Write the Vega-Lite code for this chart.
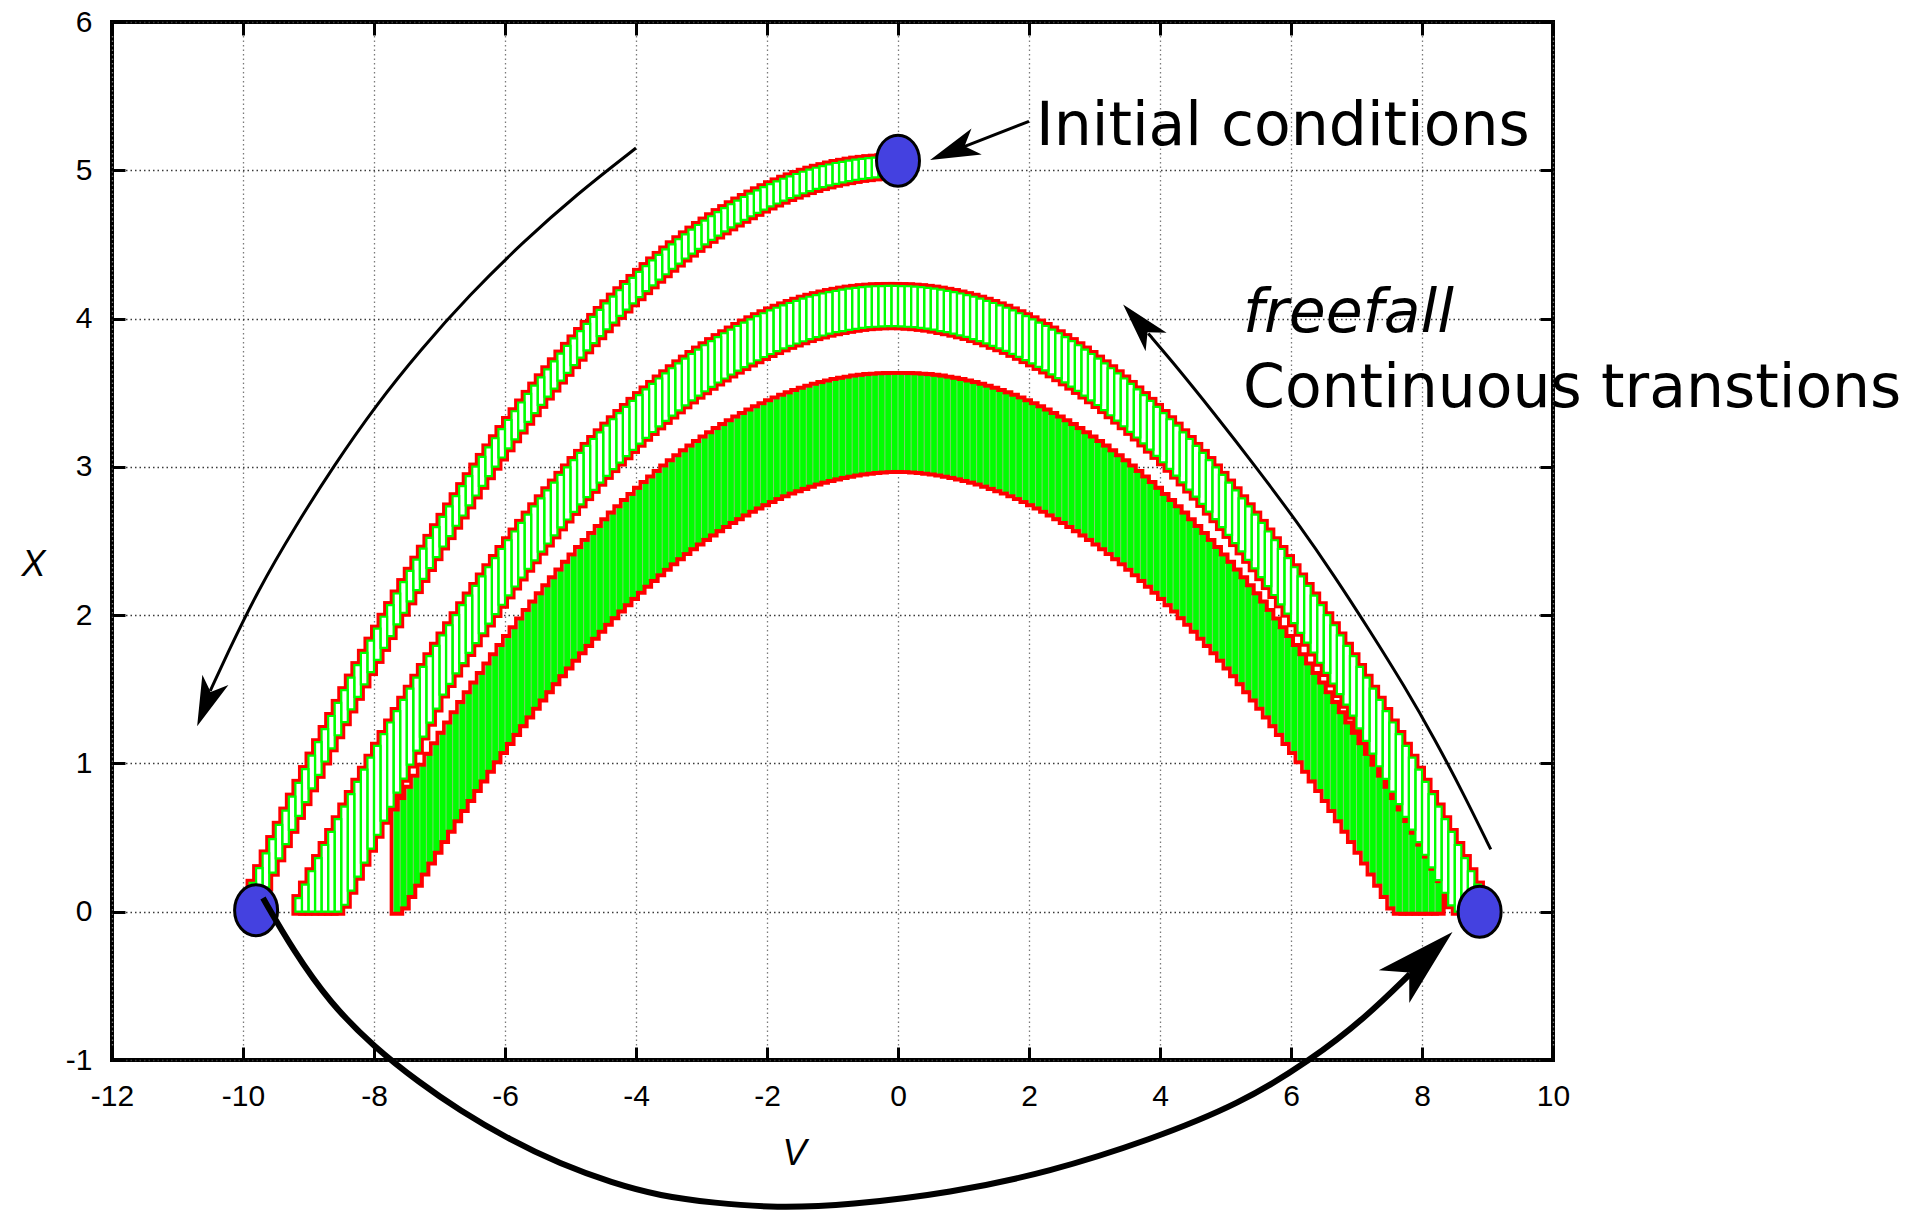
{
  "$schema": "https://vega.github.io/schema/vega-lite/v6.json",
  "width": 1441,
  "height": 1038,
  "autosize": {"type": "none"},
  "padding": {"left": 112, "top": 22, "right": 377, "bottom": 153},
  "background": "white",
  "config": {
    "view": {"stroke": "black", "strokeWidth": 4},
    "axis": {
      "domain": false,
      "tickColor": "black",
      "tickWidth": 3,
      "tickSize": -13,
      "labelFont": "Liberation Sans Narrow, Arial Narrow, Liberation Sans, sans-serif",
      "labelFontSize": 30,
      "labelColor": "black",
      "titleFont": "Liberation Sans Narrow, Arial Narrow, Liberation Sans, sans-serif",
      "titleFontSize": 36,
      "titleFontStyle": "italic",
      "titleFontWeight": "normal",
      "titleColor": "black",
      "gridDash": [1.5, 3],
      "gridWidth": 1.3
    }
  },
  "datasets": {
    "boxes": [
      {"band":1,"v0":-0.1,"v1":0,"lo":4.959,"hi":5.09},
      {"band":1,"v0":-0.2,"v1":-0.1,"lo":4.958,"hi":5.089},
      {"band":1,"v0":-0.3,"v1":-0.2,"lo":4.955,"hi":5.088},
      {"band":1,"v0":-0.4,"v1":-0.3,"lo":4.952,"hi":5.085},
      {"band":1,"v0":-0.5,"v1":-0.4,"lo":4.947,"hi":5.082},
      {"band":1,"v0":-0.6,"v1":-0.5,"lo":4.942,"hi":5.077},
      {"band":1,"v0":-0.7,"v1":-0.6,"lo":4.935,"hi":5.072},
      {"band":1,"v0":-0.8,"v1":-0.7,"lo":4.927,"hi":5.065},
      {"band":1,"v0":-0.9,"v1":-0.8,"lo":4.919,"hi":5.057},
      {"band":1,"v0":-1,"v1":-0.9,"lo":4.909,"hi":5.049},
      {"band":1,"v0":-1.1,"v1":-1,"lo":4.898,"hi":5.039},
      {"band":1,"v0":-1.2,"v1":-1.1,"lo":4.887,"hi":5.028},
      {"band":1,"v0":-1.3,"v1":-1.2,"lo":4.874,"hi":5.017},
      {"band":1,"v0":-1.4,"v1":-1.3,"lo":4.86,"hi":5.004},
      {"band":1,"v0":-1.5,"v1":-1.4,"lo":4.845,"hi":4.99},
      {"band":1,"v0":-1.6,"v1":-1.5,"lo":4.829,"hi":4.975},
      {"band":1,"v0":-1.7,"v1":-1.6,"lo":4.813,"hi":4.959},
      {"band":1,"v0":-1.8,"v1":-1.7,"lo":4.795,"hi":4.943},
      {"band":1,"v0":-1.9,"v1":-1.8,"lo":4.776,"hi":4.925},
      {"band":1,"v0":-2,"v1":-1.9,"lo":4.756,"hi":4.906},
      {"band":1,"v0":-2.1,"v1":-2,"lo":4.735,"hi":4.886},
      {"band":1,"v0":-2.2,"v1":-2.1,"lo":4.713,"hi":4.865},
      {"band":1,"v0":-2.3,"v1":-2.2,"lo":4.69,"hi":4.843},
      {"band":1,"v0":-2.4,"v1":-2.3,"lo":4.666,"hi":4.82},
      {"band":1,"v0":-2.5,"v1":-2.4,"lo":4.641,"hi":4.796},
      {"band":1,"v0":-2.6,"v1":-2.5,"lo":4.615,"hi":4.771},
      {"band":1,"v0":-2.7,"v1":-2.6,"lo":4.588,"hi":4.745},
      {"band":1,"v0":-2.8,"v1":-2.7,"lo":4.56,"hi":4.718},
      {"band":1,"v0":-2.9,"v1":-2.8,"lo":4.531,"hi":4.69},
      {"band":1,"v0":-3,"v1":-2.9,"lo":4.501,"hi":4.661},
      {"band":1,"v0":-3.1,"v1":-3,"lo":4.47,"hi":4.631},
      {"band":1,"v0":-3.2,"v1":-3.1,"lo":4.438,"hi":4.6},
      {"band":1,"v0":-3.3,"v1":-3.2,"lo":4.405,"hi":4.568},
      {"band":1,"v0":-3.4,"v1":-3.3,"lo":4.371,"hi":4.535},
      {"band":1,"v0":-3.5,"v1":-3.4,"lo":4.336,"hi":4.501},
      {"band":1,"v0":-3.6,"v1":-3.5,"lo":4.299,"hi":4.466},
      {"band":1,"v0":-3.7,"v1":-3.6,"lo":4.262,"hi":4.429},
      {"band":1,"v0":-3.8,"v1":-3.7,"lo":4.224,"hi":4.392},
      {"band":1,"v0":-3.9,"v1":-3.8,"lo":4.185,"hi":4.354},
      {"band":1,"v0":-4,"v1":-3.9,"lo":4.144,"hi":4.315},
      {"band":1,"v0":-4.1,"v1":-4,"lo":4.103,"hi":4.274},
      {"band":1,"v0":-4.2,"v1":-4.1,"lo":4.061,"hi":4.233},
      {"band":1,"v0":-4.3,"v1":-4.2,"lo":4.018,"hi":4.191},
      {"band":1,"v0":-4.4,"v1":-4.3,"lo":3.973,"hi":4.148},
      {"band":1,"v0":-4.5,"v1":-4.4,"lo":3.928,"hi":4.103},
      {"band":1,"v0":-4.6,"v1":-4.5,"lo":3.881,"hi":4.058},
      {"band":1,"v0":-4.7,"v1":-4.6,"lo":3.834,"hi":4.011},
      {"band":1,"v0":-4.8,"v1":-4.7,"lo":3.786,"hi":3.964},
      {"band":1,"v0":-4.9,"v1":-4.8,"lo":3.736,"hi":3.916},
      {"band":1,"v0":-5,"v1":-4.9,"lo":3.686,"hi":3.866},
      {"band":1,"v0":-5.1,"v1":-5,"lo":3.634,"hi":3.816},
      {"band":1,"v0":-5.2,"v1":-5.1,"lo":3.582,"hi":3.764},
      {"band":1,"v0":-5.3,"v1":-5.2,"lo":3.528,"hi":3.712},
      {"band":1,"v0":-5.4,"v1":-5.3,"lo":3.474,"hi":3.658},
      {"band":1,"v0":-5.5,"v1":-5.4,"lo":3.418,"hi":3.604},
      {"band":1,"v0":-5.6,"v1":-5.5,"lo":3.362,"hi":3.548},
      {"band":1,"v0":-5.7,"v1":-5.6,"lo":3.304,"hi":3.492},
      {"band":1,"v0":-5.8,"v1":-5.7,"lo":3.245,"hi":3.434},
      {"band":1,"v0":-5.9,"v1":-5.8,"lo":3.186,"hi":3.375},
      {"band":1,"v0":-6,"v1":-5.9,"lo":3.125,"hi":3.316},
      {"band":1,"v0":-6.1,"v1":-6,"lo":3.063,"hi":3.255},
      {"band":1,"v0":-6.2,"v1":-6.1,"lo":3.001,"hi":3.193},
      {"band":1,"v0":-6.3,"v1":-6.2,"lo":2.937,"hi":3.131},
      {"band":1,"v0":-6.4,"v1":-6.3,"lo":2.872,"hi":3.067},
      {"band":1,"v0":-6.5,"v1":-6.4,"lo":2.807,"hi":3.002},
      {"band":1,"v0":-6.6,"v1":-6.5,"lo":2.74,"hi":2.937},
      {"band":1,"v0":-6.7,"v1":-6.6,"lo":2.672,"hi":2.87},
      {"band":1,"v0":-6.8,"v1":-6.7,"lo":2.603,"hi":2.802},
      {"band":1,"v0":-6.9,"v1":-6.8,"lo":2.533,"hi":2.733},
      {"band":1,"v0":-7,"v1":-6.9,"lo":2.463,"hi":2.663},
      {"band":1,"v0":-7.1,"v1":-7,"lo":2.391,"hi":2.593},
      {"band":1,"v0":-7.2,"v1":-7.1,"lo":2.318,"hi":2.521},
      {"band":1,"v0":-7.3,"v1":-7.2,"lo":2.244,"hi":2.448},
      {"band":1,"v0":-7.4,"v1":-7.3,"lo":2.169,"hi":2.374},
      {"band":1,"v0":-7.5,"v1":-7.4,"lo":2.093,"hi":2.299},
      {"band":1,"v0":-7.6,"v1":-7.5,"lo":2.016,"hi":2.223},
      {"band":1,"v0":-7.7,"v1":-7.6,"lo":1.938,"hi":2.146},
      {"band":1,"v0":-7.8,"v1":-7.7,"lo":1.859,"hi":2.068},
      {"band":1,"v0":-7.9,"v1":-7.8,"lo":1.779,"hi":1.989},
      {"band":1,"v0":-8,"v1":-7.9,"lo":1.698,"hi":1.909},
      {"band":1,"v0":-8.1,"v1":-8,"lo":1.616,"hi":1.828},
      {"band":1,"v0":-8.2,"v1":-8.1,"lo":1.533,"hi":1.746},
      {"band":1,"v0":-8.3,"v1":-8.2,"lo":1.449,"hi":1.663},
      {"band":1,"v0":-8.4,"v1":-8.3,"lo":1.364,"hi":1.579},
      {"band":1,"v0":-8.5,"v1":-8.4,"lo":1.278,"hi":1.494},
      {"band":1,"v0":-8.6,"v1":-8.5,"lo":1.19,"hi":1.408},
      {"band":1,"v0":-8.7,"v1":-8.6,"lo":1.102,"hi":1.32},
      {"band":1,"v0":-8.8,"v1":-8.7,"lo":1.013,"hi":1.232},
      {"band":1,"v0":-8.9,"v1":-8.8,"lo":0.923,"hi":1.143},
      {"band":1,"v0":-9,"v1":-8.9,"lo":0.832,"hi":1.053},
      {"band":1,"v0":-9.1,"v1":-9,"lo":0.739,"hi":0.962},
      {"band":1,"v0":-9.2,"v1":-9.1,"lo":0.646,"hi":0.869},
      {"band":1,"v0":-9.3,"v1":-9.2,"lo":0.552,"hi":0.776},
      {"band":1,"v0":-9.4,"v1":-9.3,"lo":0.456,"hi":0.682},
      {"band":1,"v0":-9.5,"v1":-9.4,"lo":0.36,"hi":0.586},
      {"band":1,"v0":-9.6,"v1":-9.5,"lo":0.263,"hi":0.49},
      {"band":1,"v0":-9.7,"v1":-9.6,"lo":0.164,"hi":0.393},
      {"band":1,"v0":-9.8,"v1":-9.7,"lo":0.065,"hi":0.294},
      {"band":1,"v0":-9.9,"v1":-9.8,"lo":0,"hi":0.195},

      {"band":2,"v0":-0.1,"v1":0,"lo":3.949,"hi":4.22},
      {"band":2,"v0":0,"v1":0.1,"lo":3.948,"hi":4.219},
      {"band":2,"v0":0.1,"v1":0.2,"lo":3.945,"hi":4.218},
      {"band":2,"v0":0.2,"v1":0.3,"lo":3.942,"hi":4.215},
      {"band":2,"v0":0.3,"v1":0.4,"lo":3.937,"hi":4.212},
      {"band":2,"v0":0.4,"v1":0.5,"lo":3.932,"hi":4.207},
      {"band":2,"v0":0.5,"v1":0.6,"lo":3.925,"hi":4.202},
      {"band":2,"v0":0.6,"v1":0.7,"lo":3.916,"hi":4.195},
      {"band":2,"v0":0.7,"v1":0.8,"lo":3.908,"hi":4.187},
      {"band":2,"v0":0.8,"v1":0.9,"lo":3.898,"hi":4.179},
      {"band":2,"v0":0.9,"v1":1,"lo":3.887,"hi":4.169},
      {"band":2,"v0":1,"v1":1.1,"lo":3.876,"hi":4.158},
      {"band":2,"v0":1.1,"v1":1.2,"lo":3.862,"hi":4.147},
      {"band":2,"v0":1.2,"v1":1.3,"lo":3.848,"hi":4.134},
      {"band":2,"v0":1.3,"v1":1.4,"lo":3.833,"hi":4.12},
      {"band":2,"v0":1.4,"v1":1.5,"lo":3.816,"hi":4.105},
      {"band":2,"v0":1.5,"v1":1.6,"lo":3.8,"hi":4.089},
      {"band":2,"v0":1.6,"v1":1.7,"lo":3.782,"hi":4.073},
      {"band":2,"v0":1.7,"v1":1.8,"lo":3.762,"hi":4.055},
      {"band":2,"v0":1.8,"v1":1.9,"lo":3.742,"hi":4.036},
      {"band":2,"v0":1.9,"v1":2,"lo":3.72,"hi":4.016},
      {"band":2,"v0":2,"v1":2.1,"lo":3.698,"hi":3.995},
      {"band":2,"v0":2.1,"v1":2.2,"lo":3.674,"hi":3.973},
      {"band":2,"v0":2.2,"v1":2.3,"lo":3.65,"hi":3.95},
      {"band":2,"v0":2.3,"v1":2.4,"lo":3.624,"hi":3.926},
      {"band":2,"v0":2.4,"v1":2.5,"lo":3.598,"hi":3.901},
      {"band":2,"v0":2.5,"v1":2.6,"lo":3.57,"hi":3.875},
      {"band":2,"v0":2.6,"v1":2.7,"lo":3.541,"hi":3.848},
      {"band":2,"v0":2.7,"v1":2.8,"lo":3.512,"hi":3.82},
      {"band":2,"v0":2.8,"v1":2.9,"lo":3.481,"hi":3.791},
      {"band":2,"v0":2.9,"v1":3,"lo":3.449,"hi":3.761},
      {"band":2,"v0":3,"v1":3.1,"lo":3.417,"hi":3.73},
      {"band":2,"v0":3.1,"v1":3.2,"lo":3.383,"hi":3.698},
      {"band":2,"v0":3.2,"v1":3.3,"lo":3.348,"hi":3.665},
      {"band":2,"v0":3.3,"v1":3.4,"lo":3.312,"hi":3.631},
      {"band":2,"v0":3.4,"v1":3.5,"lo":3.274,"hi":3.596},
      {"band":2,"v0":3.5,"v1":3.6,"lo":3.236,"hi":3.559},
      {"band":2,"v0":3.6,"v1":3.7,"lo":3.198,"hi":3.522},
      {"band":2,"v0":3.7,"v1":3.8,"lo":3.158,"hi":3.484},
      {"band":2,"v0":3.8,"v1":3.9,"lo":3.116,"hi":3.445},
      {"band":2,"v0":3.9,"v1":4,"lo":3.074,"hi":3.404},
      {"band":2,"v0":4,"v1":4.1,"lo":3.031,"hi":3.363},
      {"band":2,"v0":4.1,"v1":4.2,"lo":2.987,"hi":3.321},
      {"band":2,"v0":4.2,"v1":4.3,"lo":2.941,"hi":3.278},
      {"band":2,"v0":4.3,"v1":4.4,"lo":2.895,"hi":3.233},
      {"band":2,"v0":4.4,"v1":4.5,"lo":2.847,"hi":3.188},
      {"band":2,"v0":4.5,"v1":4.6,"lo":2.799,"hi":3.141},
      {"band":2,"v0":4.6,"v1":4.7,"lo":2.75,"hi":3.094},
      {"band":2,"v0":4.7,"v1":4.8,"lo":2.698,"hi":3.046},
      {"band":2,"v0":4.8,"v1":4.9,"lo":2.647,"hi":2.996},
      {"band":2,"v0":4.9,"v1":5,"lo":2.594,"hi":2.946},
      {"band":2,"v0":5,"v1":5.1,"lo":2.541,"hi":2.894},
      {"band":2,"v0":5.1,"v1":5.2,"lo":2.486,"hi":2.842},
      {"band":2,"v0":5.2,"v1":5.3,"lo":2.43,"hi":2.788},
      {"band":2,"v0":5.3,"v1":5.4,"lo":2.373,"hi":2.734},
      {"band":2,"v0":5.4,"v1":5.5,"lo":2.316,"hi":2.678},
      {"band":2,"v0":5.5,"v1":5.6,"lo":2.256,"hi":2.622},
      {"band":2,"v0":5.6,"v1":5.7,"lo":2.196,"hi":2.564},
      {"band":2,"v0":5.7,"v1":5.8,"lo":2.136,"hi":2.505},
      {"band":2,"v0":5.8,"v1":5.9,"lo":2.073,"hi":2.446},
      {"band":2,"v0":5.9,"v1":6,"lo":2.01,"hi":2.385},
      {"band":2,"v0":6,"v1":6.1,"lo":1.946,"hi":2.323},
      {"band":2,"v0":6.1,"v1":6.2,"lo":1.881,"hi":2.261},
      {"band":2,"v0":6.2,"v1":6.3,"lo":1.814,"hi":2.197},
      {"band":2,"v0":6.3,"v1":6.4,"lo":1.748,"hi":2.132},
      {"band":2,"v0":6.4,"v1":6.5,"lo":1.679,"hi":2.067},
      {"band":2,"v0":6.5,"v1":6.6,"lo":1.61,"hi":2},
      {"band":2,"v0":6.6,"v1":6.7,"lo":1.539,"hi":1.932},
      {"band":2,"v0":6.7,"v1":6.8,"lo":1.468,"hi":1.863},
      {"band":2,"v0":6.8,"v1":6.9,"lo":1.396,"hi":1.793},
      {"band":2,"v0":6.9,"v1":7,"lo":1.322,"hi":1.723},
      {"band":2,"v0":7,"v1":7.1,"lo":1.237,"hi":1.651},
      {"band":2,"v0":7.1,"v1":7.2,"lo":1.152,"hi":1.578},
      {"band":2,"v0":7.2,"v1":7.3,"lo":1.066,"hi":1.504},
      {"band":2,"v0":7.3,"v1":7.4,"lo":0.981,"hi":1.429},
      {"band":2,"v0":7.4,"v1":7.5,"lo":0.896,"hi":1.353},
      {"band":2,"v0":7.5,"v1":7.6,"lo":0.81,"hi":1.276},
      {"band":2,"v0":7.6,"v1":7.7,"lo":0.725,"hi":1.198},
      {"band":2,"v0":7.7,"v1":7.8,"lo":0.64,"hi":1.119},
      {"band":2,"v0":7.8,"v1":7.9,"lo":0.554,"hi":1.039},
      {"band":2,"v0":7.9,"v1":8,"lo":0.469,"hi":0.958},
      {"band":2,"v0":8,"v1":8.1,"lo":0.384,"hi":0.876},
      {"band":2,"v0":8.1,"v1":8.2,"lo":0.299,"hi":0.793},
      {"band":2,"v0":8.2,"v1":8.3,"lo":0.213,"hi":0.709},
      {"band":2,"v0":8.3,"v1":8.4,"lo":0.128,"hi":0.624},
      {"band":2,"v0":8.4,"v1":8.5,"lo":0.043,"hi":0.538},
      {"band":2,"v0":8.5,"v1":8.6,"lo":0,"hi":0.45},
      {"band":2,"v0":8.6,"v1":8.7,"lo":0,"hi":0.362},
      {"band":2,"v0":8.7,"v1":8.8,"lo":0,"hi":0.273},
      {"band":2,"v0":8.8,"v1":8.9,"lo":0,"hi":0.183},
      {"band":2,"v0":8.9,"v1":9,"lo":0,"hi":0.092},
      {"band":2,"v0":-0.2,"v1":-0.1,"lo":3.949,"hi":4.22},
      {"band":2,"v0":-0.3,"v1":-0.2,"lo":3.948,"hi":4.219},
      {"band":2,"v0":-0.4,"v1":-0.3,"lo":3.945,"hi":4.218},
      {"band":2,"v0":-0.5,"v1":-0.4,"lo":3.942,"hi":4.215},
      {"band":2,"v0":-0.6,"v1":-0.5,"lo":3.937,"hi":4.212},
      {"band":2,"v0":-0.7,"v1":-0.6,"lo":3.931,"hi":4.207},
      {"band":2,"v0":-0.8,"v1":-0.7,"lo":3.924,"hi":4.202},
      {"band":2,"v0":-0.9,"v1":-0.8,"lo":3.916,"hi":4.195},
      {"band":2,"v0":-1,"v1":-0.9,"lo":3.908,"hi":4.187},
      {"band":2,"v0":-1.1,"v1":-1,"lo":3.898,"hi":4.179},
      {"band":2,"v0":-1.2,"v1":-1.1,"lo":3.886,"hi":4.169},
      {"band":2,"v0":-1.3,"v1":-1.2,"lo":3.875,"hi":4.158},
      {"band":2,"v0":-1.4,"v1":-1.3,"lo":3.862,"hi":4.147},
      {"band":2,"v0":-1.5,"v1":-1.4,"lo":3.847,"hi":4.134},
      {"band":2,"v0":-1.6,"v1":-1.5,"lo":3.832,"hi":4.12},
      {"band":2,"v0":-1.7,"v1":-1.6,"lo":3.816,"hi":4.105},
      {"band":2,"v0":-1.8,"v1":-1.7,"lo":3.799,"hi":4.089},
      {"band":2,"v0":-1.9,"v1":-1.8,"lo":3.781,"hi":4.073},
      {"band":2,"v0":-2,"v1":-1.9,"lo":3.761,"hi":4.055},
      {"band":2,"v0":-2.1,"v1":-2,"lo":3.741,"hi":4.036},
      {"band":2,"v0":-2.2,"v1":-2.1,"lo":3.719,"hi":4.016},
      {"band":2,"v0":-2.3,"v1":-2.2,"lo":3.697,"hi":3.995},
      {"band":2,"v0":-2.4,"v1":-2.3,"lo":3.673,"hi":3.973},
      {"band":2,"v0":-2.5,"v1":-2.4,"lo":3.649,"hi":3.95},
      {"band":2,"v0":-2.6,"v1":-2.5,"lo":3.623,"hi":3.926},
      {"band":2,"v0":-2.7,"v1":-2.6,"lo":3.596,"hi":3.901},
      {"band":2,"v0":-2.8,"v1":-2.7,"lo":3.569,"hi":3.875},
      {"band":2,"v0":-2.9,"v1":-2.8,"lo":3.54,"hi":3.848},
      {"band":2,"v0":-3,"v1":-2.9,"lo":3.51,"hi":3.82},
      {"band":2,"v0":-3.1,"v1":-3,"lo":3.48,"hi":3.791},
      {"band":2,"v0":-3.2,"v1":-3.1,"lo":3.448,"hi":3.761},
      {"band":2,"v0":-3.3,"v1":-3.2,"lo":3.415,"hi":3.73},
      {"band":2,"v0":-3.4,"v1":-3.3,"lo":3.381,"hi":3.698},
      {"band":2,"v0":-3.5,"v1":-3.4,"lo":3.346,"hi":3.665},
      {"band":2,"v0":-3.6,"v1":-3.5,"lo":3.31,"hi":3.631},
      {"band":2,"v0":-3.7,"v1":-3.6,"lo":3.273,"hi":3.596},
      {"band":2,"v0":-3.8,"v1":-3.7,"lo":3.235,"hi":3.559},
      {"band":2,"v0":-3.9,"v1":-3.8,"lo":3.196,"hi":3.522},
      {"band":2,"v0":-4,"v1":-3.9,"lo":3.156,"hi":3.484},
      {"band":2,"v0":-4.1,"v1":-4,"lo":3.114,"hi":3.445},
      {"band":2,"v0":-4.2,"v1":-4.1,"lo":3.072,"hi":3.404},
      {"band":2,"v0":-4.3,"v1":-4.2,"lo":3.029,"hi":3.363},
      {"band":2,"v0":-4.4,"v1":-4.3,"lo":2.985,"hi":3.321},
      {"band":2,"v0":-4.5,"v1":-4.4,"lo":2.939,"hi":3.278},
      {"band":2,"v0":-4.6,"v1":-4.5,"lo":2.893,"hi":3.233},
      {"band":2,"v0":-4.7,"v1":-4.6,"lo":2.845,"hi":3.188},
      {"band":2,"v0":-4.8,"v1":-4.7,"lo":2.796,"hi":3.141},
      {"band":2,"v0":-4.9,"v1":-4.8,"lo":2.747,"hi":3.094},
      {"band":2,"v0":-5,"v1":-4.9,"lo":2.696,"hi":3.046},
      {"band":2,"v0":-5.1,"v1":-5,"lo":2.645,"hi":2.996},
      {"band":2,"v0":-5.2,"v1":-5.1,"lo":2.592,"hi":2.946},
      {"band":2,"v0":-5.3,"v1":-5.2,"lo":2.538,"hi":2.894},
      {"band":2,"v0":-5.4,"v1":-5.3,"lo":2.483,"hi":2.842},
      {"band":2,"v0":-5.5,"v1":-5.4,"lo":2.428,"hi":2.788},
      {"band":2,"v0":-5.6,"v1":-5.5,"lo":2.37,"hi":2.734},
      {"band":2,"v0":-5.7,"v1":-5.6,"lo":2.313,"hi":2.678},
      {"band":2,"v0":-5.8,"v1":-5.7,"lo":2.254,"hi":2.622},
      {"band":2,"v0":-5.9,"v1":-5.8,"lo":2.193,"hi":2.564},
      {"band":2,"v0":-6,"v1":-5.9,"lo":2.133,"hi":2.505},
      {"band":2,"v0":-6.1,"v1":-6,"lo":2.07,"hi":2.446},
      {"band":2,"v0":-6.2,"v1":-6.1,"lo":2.007,"hi":2.385},
      {"band":2,"v0":-6.3,"v1":-6.2,"lo":1.943,"hi":2.323},
      {"band":2,"v0":-6.4,"v1":-6.3,"lo":1.878,"hi":2.261},
      {"band":2,"v0":-6.5,"v1":-6.4,"lo":1.811,"hi":2.197},
      {"band":2,"v0":-6.6,"v1":-6.5,"lo":1.745,"hi":2.132},
      {"band":2,"v0":-6.7,"v1":-6.6,"lo":1.676,"hi":2.067},
      {"band":2,"v0":-6.8,"v1":-6.7,"lo":1.607,"hi":2},
      {"band":2,"v0":-6.9,"v1":-6.8,"lo":1.536,"hi":1.932},
      {"band":2,"v0":-7,"v1":-6.9,"lo":1.464,"hi":1.863},
      {"band":2,"v0":-7.1,"v1":-7,"lo":1.37,"hi":1.793},
      {"band":2,"v0":-7.2,"v1":-7.1,"lo":1.275,"hi":1.723},
      {"band":2,"v0":-7.3,"v1":-7.2,"lo":1.181,"hi":1.651},
      {"band":2,"v0":-7.4,"v1":-7.3,"lo":1.086,"hi":1.578},
      {"band":2,"v0":-7.5,"v1":-7.4,"lo":0.992,"hi":1.504},
      {"band":2,"v0":-7.6,"v1":-7.5,"lo":0.897,"hi":1.429},
      {"band":2,"v0":-7.7,"v1":-7.6,"lo":0.803,"hi":1.353},
      {"band":2,"v0":-7.8,"v1":-7.7,"lo":0.708,"hi":1.276},
      {"band":2,"v0":-7.9,"v1":-7.8,"lo":0.614,"hi":1.198},
      {"band":2,"v0":-8,"v1":-7.9,"lo":0.519,"hi":1.119},
      {"band":2,"v0":-8.1,"v1":-8,"lo":0.425,"hi":1.039},
      {"band":2,"v0":-8.2,"v1":-8.1,"lo":0.331,"hi":0.958},
      {"band":2,"v0":-8.3,"v1":-8.2,"lo":0.236,"hi":0.876},
      {"band":2,"v0":-8.4,"v1":-8.3,"lo":0.142,"hi":0.793},
      {"band":2,"v0":-8.5,"v1":-8.4,"lo":0.047,"hi":0.709},
      {"band":2,"v0":-8.6,"v1":-8.5,"lo":0,"hi":0.624},
      {"band":2,"v0":-8.7,"v1":-8.6,"lo":0,"hi":0.538},
      {"band":2,"v0":-8.8,"v1":-8.7,"lo":0,"hi":0.45},
      {"band":2,"v0":-8.9,"v1":-8.8,"lo":0,"hi":0.362},
      {"band":2,"v0":-9,"v1":-8.9,"lo":0,"hi":0.273},
      {"band":2,"v0":-9.1,"v1":-9,"lo":0,"hi":0.183},
      {"band":2,"v0":-9.2,"v1":-9.1,"lo":0,"hi":0.092},

      {"band":3,"v0":0,"v1":0.1,"lo":2.979,"hi":3.62},
      {"band":3,"v0":0.1,"v1":0.2,"lo":2.978,"hi":3.619},
      {"band":3,"v0":0.2,"v1":0.3,"lo":2.975,"hi":3.618},
      {"band":3,"v0":0.3,"v1":0.4,"lo":2.972,"hi":3.615},
      {"band":3,"v0":0.4,"v1":0.5,"lo":2.967,"hi":3.612},
      {"band":3,"v0":0.5,"v1":0.6,"lo":2.962,"hi":3.607},
      {"band":3,"v0":0.6,"v1":0.7,"lo":2.955,"hi":3.602},
      {"band":3,"v0":0.7,"v1":0.8,"lo":2.947,"hi":3.595},
      {"band":3,"v0":0.8,"v1":0.9,"lo":2.939,"hi":3.587},
      {"band":3,"v0":0.9,"v1":1,"lo":2.929,"hi":3.579},
      {"band":3,"v0":1,"v1":1.1,"lo":2.918,"hi":3.569},
      {"band":3,"v0":1.1,"v1":1.2,"lo":2.907,"hi":3.558},
      {"band":3,"v0":1.2,"v1":1.3,"lo":2.894,"hi":3.547},
      {"band":3,"v0":1.3,"v1":1.4,"lo":2.88,"hi":3.534},
      {"band":3,"v0":1.4,"v1":1.5,"lo":2.865,"hi":3.52},
      {"band":3,"v0":1.5,"v1":1.6,"lo":2.849,"hi":3.505},
      {"band":3,"v0":1.6,"v1":1.7,"lo":2.833,"hi":3.489},
      {"band":3,"v0":1.7,"v1":1.8,"lo":2.815,"hi":3.473},
      {"band":3,"v0":1.8,"v1":1.9,"lo":2.796,"hi":3.455},
      {"band":3,"v0":1.9,"v1":2,"lo":2.776,"hi":3.436},
      {"band":3,"v0":2,"v1":2.1,"lo":2.755,"hi":3.416},
      {"band":3,"v0":2.1,"v1":2.2,"lo":2.733,"hi":3.395},
      {"band":3,"v0":2.2,"v1":2.3,"lo":2.71,"hi":3.373},
      {"band":3,"v0":2.3,"v1":2.4,"lo":2.686,"hi":3.35},
      {"band":3,"v0":2.4,"v1":2.5,"lo":2.661,"hi":3.326},
      {"band":3,"v0":2.5,"v1":2.6,"lo":2.635,"hi":3.301},
      {"band":3,"v0":2.6,"v1":2.7,"lo":2.608,"hi":3.275},
      {"band":3,"v0":2.7,"v1":2.8,"lo":2.58,"hi":3.248},
      {"band":3,"v0":2.8,"v1":2.9,"lo":2.551,"hi":3.22},
      {"band":3,"v0":2.9,"v1":3,"lo":2.521,"hi":3.191},
      {"band":3,"v0":3,"v1":3.1,"lo":2.49,"hi":3.161},
      {"band":3,"v0":3.1,"v1":3.2,"lo":2.458,"hi":3.13},
      {"band":3,"v0":3.2,"v1":3.3,"lo":2.425,"hi":3.098},
      {"band":3,"v0":3.3,"v1":3.4,"lo":2.391,"hi":3.065},
      {"band":3,"v0":3.4,"v1":3.5,"lo":2.356,"hi":3.031},
      {"band":3,"v0":3.5,"v1":3.6,"lo":2.319,"hi":2.996},
      {"band":3,"v0":3.6,"v1":3.7,"lo":2.282,"hi":2.959},
      {"band":3,"v0":3.7,"v1":3.8,"lo":2.244,"hi":2.922},
      {"band":3,"v0":3.8,"v1":3.9,"lo":2.205,"hi":2.884},
      {"band":3,"v0":3.9,"v1":4,"lo":2.164,"hi":2.845},
      {"band":3,"v0":4,"v1":4.1,"lo":2.123,"hi":2.804},
      {"band":3,"v0":4.1,"v1":4.2,"lo":2.081,"hi":2.763},
      {"band":3,"v0":4.2,"v1":4.3,"lo":2.038,"hi":2.721},
      {"band":3,"v0":4.3,"v1":4.4,"lo":1.993,"hi":2.678},
      {"band":3,"v0":4.4,"v1":4.5,"lo":1.948,"hi":2.633},
      {"band":3,"v0":4.5,"v1":4.6,"lo":1.901,"hi":2.588},
      {"band":3,"v0":4.6,"v1":4.7,"lo":1.854,"hi":2.541},
      {"band":3,"v0":4.7,"v1":4.8,"lo":1.806,"hi":2.494},
      {"band":3,"v0":4.8,"v1":4.9,"lo":1.756,"hi":2.446},
      {"band":3,"v0":4.9,"v1":5,"lo":1.706,"hi":2.396},
      {"band":3,"v0":5,"v1":5.1,"lo":1.654,"hi":2.346},
      {"band":3,"v0":5.1,"v1":5.2,"lo":1.602,"hi":2.294},
      {"band":3,"v0":5.2,"v1":5.3,"lo":1.548,"hi":2.242},
      {"band":3,"v0":5.3,"v1":5.4,"lo":1.494,"hi":2.188},
      {"band":3,"v0":5.4,"v1":5.5,"lo":1.438,"hi":2.134},
      {"band":3,"v0":5.5,"v1":5.6,"lo":1.382,"hi":2.078},
      {"band":3,"v0":5.6,"v1":5.7,"lo":1.324,"hi":2.022},
      {"band":3,"v0":5.7,"v1":5.8,"lo":1.265,"hi":1.964},
      {"band":3,"v0":5.8,"v1":5.9,"lo":1.206,"hi":1.905},
      {"band":3,"v0":5.9,"v1":6,"lo":1.145,"hi":1.846},
      {"band":3,"v0":6,"v1":6.1,"lo":1.083,"hi":1.785},
      {"band":3,"v0":6.1,"v1":6.2,"lo":1.021,"hi":1.723},
      {"band":3,"v0":6.2,"v1":6.3,"lo":0.957,"hi":1.661},
      {"band":3,"v0":6.3,"v1":6.4,"lo":0.892,"hi":1.597},
      {"band":3,"v0":6.4,"v1":6.5,"lo":0.827,"hi":1.532},
      {"band":3,"v0":6.5,"v1":6.6,"lo":0.76,"hi":1.467},
      {"band":3,"v0":6.6,"v1":6.7,"lo":0.692,"hi":1.4},
      {"band":3,"v0":6.7,"v1":6.8,"lo":0.623,"hi":1.332},
      {"band":3,"v0":6.8,"v1":6.9,"lo":0.553,"hi":1.263},
      {"band":3,"v0":6.9,"v1":7,"lo":0.483,"hi":1.193},
      {"band":3,"v0":7,"v1":7.1,"lo":0.411,"hi":1.123},
      {"band":3,"v0":7.1,"v1":7.2,"lo":0.338,"hi":1.051},
      {"band":3,"v0":7.2,"v1":7.3,"lo":0.264,"hi":0.978},
      {"band":3,"v0":7.3,"v1":7.4,"lo":0.189,"hi":0.904},
      {"band":3,"v0":7.4,"v1":7.5,"lo":0.113,"hi":0.829},
      {"band":3,"v0":7.5,"v1":7.6,"lo":0.036,"hi":0.753},
      {"band":3,"v0":7.6,"v1":7.7,"lo":0,"hi":0.676},
      {"band":3,"v0":7.7,"v1":7.8,"lo":0,"hi":0.598},
      {"band":3,"v0":7.8,"v1":7.9,"lo":0,"hi":0.519},
      {"band":3,"v0":7.9,"v1":8,"lo":0,"hi":0.439},
      {"band":3,"v0":8,"v1":8.1,"lo":0,"hi":0.358},
      {"band":3,"v0":8.1,"v1":8.2,"lo":0,"hi":0.276},
      {"band":3,"v0":8.2,"v1":8.3,"lo":0,"hi":0.193},
      {"band":3,"v0":-0.1,"v1":0,"lo":2.979,"hi":3.62},
      {"band":3,"v0":-0.2,"v1":-0.1,"lo":2.978,"hi":3.619},
      {"band":3,"v0":-0.3,"v1":-0.2,"lo":2.975,"hi":3.618},
      {"band":3,"v0":-0.4,"v1":-0.3,"lo":2.972,"hi":3.615},
      {"band":3,"v0":-0.5,"v1":-0.4,"lo":2.967,"hi":3.612},
      {"band":3,"v0":-0.6,"v1":-0.5,"lo":2.962,"hi":3.607},
      {"band":3,"v0":-0.7,"v1":-0.6,"lo":2.955,"hi":3.602},
      {"band":3,"v0":-0.8,"v1":-0.7,"lo":2.947,"hi":3.595},
      {"band":3,"v0":-0.9,"v1":-0.8,"lo":2.939,"hi":3.587},
      {"band":3,"v0":-1,"v1":-0.9,"lo":2.929,"hi":3.579},
      {"band":3,"v0":-1.1,"v1":-1,"lo":2.918,"hi":3.569},
      {"band":3,"v0":-1.2,"v1":-1.1,"lo":2.907,"hi":3.558},
      {"band":3,"v0":-1.3,"v1":-1.2,"lo":2.894,"hi":3.547},
      {"band":3,"v0":-1.4,"v1":-1.3,"lo":2.88,"hi":3.534},
      {"band":3,"v0":-1.5,"v1":-1.4,"lo":2.865,"hi":3.52},
      {"band":3,"v0":-1.6,"v1":-1.5,"lo":2.849,"hi":3.505},
      {"band":3,"v0":-1.7,"v1":-1.6,"lo":2.833,"hi":3.489},
      {"band":3,"v0":-1.8,"v1":-1.7,"lo":2.815,"hi":3.473},
      {"band":3,"v0":-1.9,"v1":-1.8,"lo":2.796,"hi":3.455},
      {"band":3,"v0":-2,"v1":-1.9,"lo":2.776,"hi":3.436},
      {"band":3,"v0":-2.1,"v1":-2,"lo":2.755,"hi":3.416},
      {"band":3,"v0":-2.2,"v1":-2.1,"lo":2.733,"hi":3.395},
      {"band":3,"v0":-2.3,"v1":-2.2,"lo":2.71,"hi":3.373},
      {"band":3,"v0":-2.4,"v1":-2.3,"lo":2.686,"hi":3.35},
      {"band":3,"v0":-2.5,"v1":-2.4,"lo":2.661,"hi":3.326},
      {"band":3,"v0":-2.6,"v1":-2.5,"lo":2.635,"hi":3.301},
      {"band":3,"v0":-2.7,"v1":-2.6,"lo":2.608,"hi":3.275},
      {"band":3,"v0":-2.8,"v1":-2.7,"lo":2.58,"hi":3.248},
      {"band":3,"v0":-2.9,"v1":-2.8,"lo":2.551,"hi":3.22},
      {"band":3,"v0":-3,"v1":-2.9,"lo":2.521,"hi":3.191},
      {"band":3,"v0":-3.1,"v1":-3,"lo":2.49,"hi":3.161},
      {"band":3,"v0":-3.2,"v1":-3.1,"lo":2.458,"hi":3.13},
      {"band":3,"v0":-3.3,"v1":-3.2,"lo":2.425,"hi":3.098},
      {"band":3,"v0":-3.4,"v1":-3.3,"lo":2.391,"hi":3.065},
      {"band":3,"v0":-3.5,"v1":-3.4,"lo":2.356,"hi":3.031},
      {"band":3,"v0":-3.6,"v1":-3.5,"lo":2.319,"hi":2.996},
      {"band":3,"v0":-3.7,"v1":-3.6,"lo":2.282,"hi":2.959},
      {"band":3,"v0":-3.8,"v1":-3.7,"lo":2.244,"hi":2.922},
      {"band":3,"v0":-3.9,"v1":-3.8,"lo":2.205,"hi":2.884},
      {"band":3,"v0":-4,"v1":-3.9,"lo":2.164,"hi":2.845},
      {"band":3,"v0":-4.1,"v1":-4,"lo":2.123,"hi":2.804},
      {"band":3,"v0":-4.2,"v1":-4.1,"lo":2.081,"hi":2.763},
      {"band":3,"v0":-4.3,"v1":-4.2,"lo":2.038,"hi":2.721},
      {"band":3,"v0":-4.4,"v1":-4.3,"lo":1.993,"hi":2.678},
      {"band":3,"v0":-4.5,"v1":-4.4,"lo":1.948,"hi":2.633},
      {"band":3,"v0":-4.6,"v1":-4.5,"lo":1.901,"hi":2.588},
      {"band":3,"v0":-4.7,"v1":-4.6,"lo":1.854,"hi":2.541},
      {"band":3,"v0":-4.8,"v1":-4.7,"lo":1.806,"hi":2.494},
      {"band":3,"v0":-4.9,"v1":-4.8,"lo":1.756,"hi":2.446},
      {"band":3,"v0":-5,"v1":-4.9,"lo":1.706,"hi":2.396},
      {"band":3,"v0":-5.1,"v1":-5,"lo":1.654,"hi":2.346},
      {"band":3,"v0":-5.2,"v1":-5.1,"lo":1.602,"hi":2.294},
      {"band":3,"v0":-5.3,"v1":-5.2,"lo":1.548,"hi":2.242},
      {"band":3,"v0":-5.4,"v1":-5.3,"lo":1.494,"hi":2.188},
      {"band":3,"v0":-5.5,"v1":-5.4,"lo":1.438,"hi":2.134},
      {"band":3,"v0":-5.6,"v1":-5.5,"lo":1.382,"hi":2.078},
      {"band":3,"v0":-5.7,"v1":-5.6,"lo":1.324,"hi":2.022},
      {"band":3,"v0":-5.8,"v1":-5.7,"lo":1.265,"hi":1.964},
      {"band":3,"v0":-5.9,"v1":-5.8,"lo":1.206,"hi":1.905},
      {"band":3,"v0":-6,"v1":-5.9,"lo":1.145,"hi":1.846},
      {"band":3,"v0":-6.1,"v1":-6,"lo":1.083,"hi":1.785},
      {"band":3,"v0":-6.2,"v1":-6.1,"lo":1.021,"hi":1.723},
      {"band":3,"v0":-6.3,"v1":-6.2,"lo":0.957,"hi":1.661},
      {"band":3,"v0":-6.4,"v1":-6.3,"lo":0.892,"hi":1.597},
      {"band":3,"v0":-6.5,"v1":-6.4,"lo":0.827,"hi":1.532},
      {"band":3,"v0":-6.6,"v1":-6.5,"lo":0.76,"hi":1.467},
      {"band":3,"v0":-6.7,"v1":-6.6,"lo":0.692,"hi":1.4},
      {"band":3,"v0":-6.8,"v1":-6.7,"lo":0.623,"hi":1.332},
      {"band":3,"v0":-6.9,"v1":-6.8,"lo":0.553,"hi":1.263},
      {"band":3,"v0":-7,"v1":-6.9,"lo":0.483,"hi":1.193},
      {"band":3,"v0":-7.1,"v1":-7,"lo":0.411,"hi":1.123},
      {"band":3,"v0":-7.2,"v1":-7.1,"lo":0.338,"hi":1.051},
      {"band":3,"v0":-7.3,"v1":-7.2,"lo":0.264,"hi":0.978},
      {"band":3,"v0":-7.4,"v1":-7.3,"lo":0.189,"hi":0.904},
      {"band":3,"v0":-7.5,"v1":-7.4,"lo":0.113,"hi":0.829},
      {"band":3,"v0":-7.6,"v1":-7.5,"lo":0.036,"hi":0.753},
      {"band":3,"v0":-7.7,"v1":-7.6,"lo":0,"hi":0.676}
    ],
    "paths": [
      {"arrow":"A","o":0,"vel":-4.0,"pos":5.15},
      {"arrow":"A","o":1,"vel":-4.9,"pos":4.84},
      {"arrow":"A","o":2,"vel":-5.74,"pos":4.51},
      {"arrow":"A","o":3,"vel":-6.54,"pos":4.16},
      {"arrow":"A","o":4,"vel":-7.29,"pos":3.79},
      {"arrow":"A","o":5,"vel":-7.98,"pos":3.41},
      {"arrow":"A","o":6,"vel":-8.61,"pos":3.01},
      {"arrow":"A","o":7,"vel":-9.2,"pos":2.6},
      {"arrow":"A","o":8,"vel":-9.77,"pos":2.17},
      {"arrow":"A","o":9,"vel":-10.26,"pos":1.72},
      {"arrow":"A","o":10,"vel":-10.5,"pos":1.49},
      {"arrow":"B","o":0,"vel":9.05,"pos":0.42},
      {"arrow":"B","o":1,"vel":8.64,"pos":0.79},
      {"arrow":"B","o":2,"vel":8.2,"pos":1.16},
      {"arrow":"B","o":3,"vel":7.72,"pos":1.53},
      {"arrow":"B","o":4,"vel":7.21,"pos":1.89},
      {"arrow":"B","o":5,"vel":6.67,"pos":2.26},
      {"arrow":"B","o":6,"vel":6.09,"pos":2.63},
      {"arrow":"B","o":7,"vel":5.48,"pos":2.99},
      {"arrow":"B","o":8,"vel":4.83,"pos":3.36},
      {"arrow":"B","o":9,"vel":4.15,"pos":3.73},
      {"arrow":"B","o":10,"vel":3.82,"pos":3.9},
      {"arrow":"C","o":0,"vel":2.0,"pos":5.33},
      {"arrow":"C","o":1,"vel":1.01,"pos":5.16},
      {"arrow":"D","o":0,"vel":-9.695,"pos":0.092},
      {"arrow":"D","o":1,"vel":-9.237,"pos":-0.258},
      {"arrow":"D","o":2,"vel":-8.672,"pos":-0.616},
      {"arrow":"D","o":3,"vel":-8.0,"pos":-0.912},
      {"arrow":"D","o":4,"vel":-7.298,"pos":-1.155},
      {"arrow":"D","o":5,"vel":-6.702,"pos":-1.337},
      {"arrow":"D","o":6,"vel":-5.924,"pos":-1.539},
      {"arrow":"D","o":7,"vel":-5.16,"pos":-1.701},
      {"arrow":"D","o":8,"vel":-4.366,"pos":-1.829},
      {"arrow":"D","o":9,"vel":-3.634,"pos":-1.917},
      {"arrow":"D","o":10,"vel":-2.809,"pos":-1.964},
      {"arrow":"D","o":11,"vel":-1.878,"pos":-1.998},
      {"arrow":"D","o":12,"vel":-0.733,"pos":-1.978},
      {"arrow":"D","o":13,"vel":0.794,"pos":-1.897},
      {"arrow":"D","o":14,"vel":2.321,"pos":-1.755},
      {"arrow":"D","o":15,"vel":3.847,"pos":-1.539},
      {"arrow":"D","o":16,"vel":5.221,"pos":-1.297},
      {"arrow":"D","o":17,"vel":6.305,"pos":-1.0},
      {"arrow":"D","o":18,"vel":7.13,"pos":-0.717},
      {"arrow":"D","o":19,"vel":7.817,"pos":-0.42}
    ],
    "heads": [
      {"arrow":"A","vel":-10.7,"pos":1.25},
      {"arrow":"B","vel":3.437,"pos":4.095},
      {"arrow":"C","vel":0.49,"pos":5.07},
      {"arrow":"D","vel":8.466,"pos":-0.137}
    ],
    "balls": [
      {"state":"initial","vel":0,"pos":5.065},
      {"state":"impact","vel":-9.8,"pos":0.01},
      {"state":"rebound","vel":8.88,"pos":0}
    ],
    "notes": [
      {"text":"Initial conditions","vel":2.107,"pos":5.17},
      {"text":"freefall","vel":5.267,"pos":3.909},
      {"text":"Continuous transtions","vel":5.267,"pos":3.403}
    ]
  },
  "layer": [
    {
      "data": {"name": "boxes"},
      "mark": {"type": "rect", "fill": "#ff0000", "stroke": "#ff0000", "strokeWidth": 8},
      "encoding": {
        "x": {"field": "v0", "type": "quantitative", "scale": {"domain": [-12, 10], "nice": false},
          "axis": {"orient": "bottom", "values": [-12,-10,-8,-6,-4,-2,0,2,4,6,8,10], "grid": true, "gridColor": "#7a7a7a",
            "labelPadding": 34, "labelFlush": false, "labelOverlap": false,
            "labelExpr": "datum.value < 0 ? '-' + abs(datum.value) : '' + datum.value",
            "title": "V", "titleX": 682, "titleY": 93, "titleAlign": "center", "titleBaseline": "middle"}},
        "x2": {"field": "v1"},
        "y": {"field": "lo", "type": "quantitative", "scale": {"domain": [-1, 6], "nice": false, "zero": false},
          "axis": {"orient": "left", "values": [-1,0,1,2,3,4,5,6], "grid": true, "gridColor": "#3a3a3a",
            "labelPadding": 33, "labelFlush": false, "labelOverlap": false,
            "labelExpr": "datum.value < 0 ? '-' + abs(datum.value) : '' + datum.value",
            "title": "X", "titleAngle": 0, "titleX": -79, "titleY": 542, "titleAlign": "center", "titleBaseline": "middle"}},
        "y2": {"field": "hi"}
      }
    },
    {
      "data": {"name": "boxes"},
      "transform": [{"filter": "datum.band < 3"}],
      "mark": {"type": "rect", "fill": "white", "strokeWidth": 0},
      "encoding": {
        "x": {"field": "v0", "type": "quantitative", "scale": {"domain": [-12, 10], "nice": false},
          "axis": {"orient": "top", "values": [-12,-10,-8,-6,-4,-2,0,2,4,6,8,10], "grid": false, "labels": false, "title": null}},
        "x2": {"field": "v1"},
        "y": {"field": "lo", "type": "quantitative", "scale": {"domain": [-1, 6], "nice": false, "zero": false},
          "axis": {"orient": "right", "values": [-1,0,1,2,3,4,5,6], "grid": false, "labels": false, "title": null}},
        "y2": {"field": "hi"}
      }
    },
    {
      "data": {"name": "boxes"},
      "transform": [{"filter": "datum.band < 3"}],
      "mark": {"type": "rect", "filled": false, "stroke": "#00ff00", "strokeWidth": 2.2},
      "encoding": {
        "x": {"field": "v0", "type": "quantitative", "scale": {"domain": [-12, 10], "nice": false}, "axis": null},
        "x2": {"field": "v1"},
        "y": {"field": "lo", "type": "quantitative", "scale": {"domain": [-1, 6], "nice": false, "zero": false}, "axis": null},
        "y2": {"field": "hi"}
      }
    },
    {
      "data": {"name": "boxes"},
      "transform": [{"filter": "datum.band == 3"}],
      "mark": {"type": "rect", "fill": "#00ff00", "strokeWidth": 0},
      "encoding": {
        "x": {"field": "v0", "type": "quantitative", "scale": {"domain": [-12, 10], "nice": false}, "axis": null},
        "x2": {"field": "v1"},
        "y": {"field": "lo", "type": "quantitative", "scale": {"domain": [-1, 6], "nice": false, "zero": false}, "axis": null},
        "y2": {"field": "hi"}
      }
    },
    {
      "data": {"name": "boxes"},
      "transform": [{"filter": "datum.band == 3"}],
      "mark": {"type": "rule", "color": "#8ed48e", "strokeWidth": 1, "opacity": 0.8},
      "encoding": {
        "x": {"field": "v0", "type": "quantitative", "scale": {"domain": [-12, 10], "nice": false}, "axis": null},
        "y": {"field": "lo", "type": "quantitative", "scale": {"domain": [-1, 6], "nice": false, "zero": false}, "axis": null},
        "y2": {"field": "hi"}
      }
    },
    {
      "data": {"name": "balls"},
      "mark": {"type": "point", "shape": "M 0 -1 C 0.466 -1 0.843 -0.552 0.843 0 C 0.843 0.552 0.466 1 0 1 C -0.466 1 -0.843 0.552 -0.843 0 C -0.843 -0.552 -0.466 -1 0 -1 Z",
        "size": 2601, "filled": true, "fill": "#4441e0", "stroke": "black", "strokeWidth": 3, "opacity": 1},
      "encoding": {
        "x": {"field": "vel", "type": "quantitative", "scale": {"domain": [-12, 10], "nice": false}, "axis": null},
        "y": {"field": "pos", "type": "quantitative", "scale": {"domain": [-1, 6], "nice": false, "zero": false}, "axis": null}
      }
    },
    {
      "data": {"name": "paths"},
      "transform": [{"filter": "datum.arrow != 'D'"}],
      "mark": {"type": "line", "color": "black", "strokeWidth": 3, "interpolate": "basis", "strokeCap": "butt"},
      "encoding": {
        "x": {"field": "vel", "type": "quantitative", "scale": {"domain": [-12, 10], "nice": false}, "axis": null},
        "y": {"field": "pos", "type": "quantitative", "scale": {"domain": [-1, 6], "nice": false, "zero": false}, "axis": null},
        "detail": {"field": "arrow"},
        "order": {"field": "o", "type": "quantitative"}
      }
    },
    {
      "data": {"name": "paths"},
      "transform": [{"filter": "datum.arrow == 'D'"}],
      "mark": {"type": "line", "color": "black", "strokeWidth": 6, "interpolate": "basis", "strokeCap": "butt"},
      "encoding": {
        "x": {"field": "vel", "type": "quantitative", "scale": {"domain": [-12, 10], "nice": false}, "axis": null},
        "y": {"field": "pos", "type": "quantitative", "scale": {"domain": [-1, 6], "nice": false, "zero": false}, "axis": null},
        "order": {"field": "o", "type": "quantitative"}
      }
    },
    {
      "data": {"name": "heads"},
      "transform": [{"filter": "datum.arrow == 'A'"}],
      "mark": {"type": "point", "shape": "M 0 0 L 0.56 2 L 0 1.48 L -0.56 2 Z", "size": 2500, "angle": 201.4,
        "filled": true, "fill": "black", "strokeWidth": 0, "opacity": 1},
      "encoding": {
        "x": {"field": "vel", "type": "quantitative", "scale": {"domain": [-12, 10], "nice": false}, "axis": null},
        "y": {"field": "pos", "type": "quantitative", "scale": {"domain": [-1, 6], "nice": false, "zero": false}, "axis": null}
      }
    },
    {
      "data": {"name": "heads"},
      "transform": [{"filter": "datum.arrow == 'B'"}],
      "mark": {"type": "point", "shape": "M 0 0 L 0.56 2 L 0 1.48 L -0.56 2 Z", "size": 2500, "angle": 318.7,
        "filled": true, "fill": "black", "strokeWidth": 0, "opacity": 1},
      "encoding": {
        "x": {"field": "vel", "type": "quantitative", "scale": {"domain": [-12, 10], "nice": false}, "axis": null},
        "y": {"field": "pos", "type": "quantitative", "scale": {"domain": [-1, 6], "nice": false, "zero": false}, "axis": null}
      }
    },
    {
      "data": {"name": "heads"},
      "transform": [{"filter": "datum.arrow == 'C'"}],
      "mark": {"type": "point", "shape": "M 0 0 L 0.56 2 L 0 1.48 L -0.56 2 Z", "size": 2500, "angle": 248.5,
        "filled": true, "fill": "black", "strokeWidth": 0, "opacity": 1},
      "encoding": {
        "x": {"field": "vel", "type": "quantitative", "scale": {"domain": [-12, 10], "nice": false}, "axis": null},
        "y": {"field": "pos", "type": "quantitative", "scale": {"domain": [-1, 6], "nice": false, "zero": false}, "axis": null}
      }
    },
    {
      "data": {"name": "heads"},
      "transform": [{"filter": "datum.arrow == 'D'"}],
      "mark": {"type": "point", "shape": "M 0 0 L 0.56 2 L 0 1.48 L -0.56 2 Z", "size": 6400, "angle": 47,
        "filled": true, "fill": "black", "strokeWidth": 0, "opacity": 1},
      "encoding": {
        "x": {"field": "vel", "type": "quantitative", "scale": {"domain": [-12, 10], "nice": false}, "axis": null},
        "y": {"field": "pos", "type": "quantitative", "scale": {"domain": [-1, 6], "nice": false, "zero": false}, "axis": null}
      }
    },
    {
      "data": {"name": "notes"},
      "transform": [{"filter": "datum.text != 'freefall'"}],
      "mark": {"type": "text", "font": "DejaVu Sans", "fontSize": 60, "align": "left", "baseline": "alphabetic", "color": "black"},
      "encoding": {
        "x": {"field": "vel", "type": "quantitative", "scale": {"domain": [-12, 10], "nice": false}, "axis": null},
        "y": {"field": "pos", "type": "quantitative", "scale": {"domain": [-1, 6], "nice": false, "zero": false}, "axis": null},
        "text": {"field": "text"}
      }
    },
    {
      "data": {"name": "notes"},
      "transform": [{"filter": "datum.text == 'freefall'"}],
      "mark": {"type": "text", "font": "DejaVu Sans", "fontSize": 60, "fontStyle": "italic", "align": "left", "baseline": "alphabetic", "color": "black"},
      "encoding": {
        "x": {"field": "vel", "type": "quantitative", "scale": {"domain": [-12, 10], "nice": false}, "axis": null},
        "y": {"field": "pos", "type": "quantitative", "scale": {"domain": [-1, 6], "nice": false, "zero": false}, "axis": null},
        "text": {"field": "text"}
      }
    }
  ],
  "resolve": {"axis": {"x": "independent", "y": "independent"}}
}
